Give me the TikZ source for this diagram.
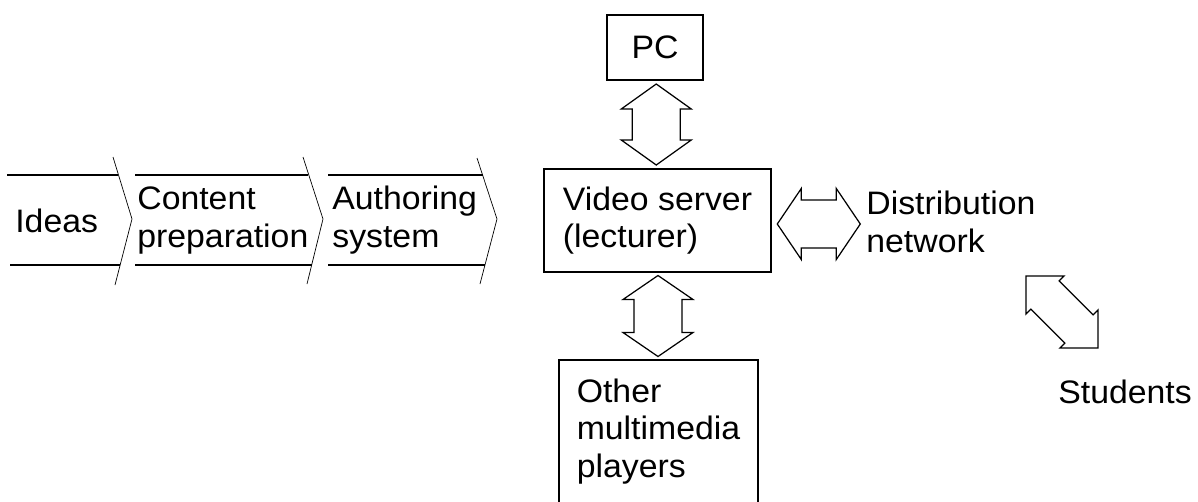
\documentclass[tikz,border=0pt]{standalone}
\usepackage{fontspec}
\setmainfont{Liberation Sans}[FakeStretch=1.04]
\usetikzlibrary{shapes,arrows,positioning,calc}

% block double arrow along x: length, head width, shaft width, head length
\tikzset{pics/blockarr/.style n args={4}{code={
    \draw[line width=0.7pt] (-#1/2,0) -- (-#1/2+#4,-#2/2) -- (-#1/2+#4,-#3/2) -- (#1/2-#4,-#3/2) -- (#1/2-#4,-#2/2)
        -- (#1/2,0) -- (#1/2-#4,#2/2) -- (#1/2-#4,#3/2) -- (-#1/2+#4,#3/2) -- (-#1/2+#4,#2/2) -- cycle;
}}}

\begin{document}
\begin{tikzpicture}[x=0.02cm, y=-0.02cm,
                txt/.style={inner sep=0pt, align=left, font=\fontsize{18.5}{21.5}\selectfont},
                box/.style={rectangle, draw, line width=0.7pt, inner sep=0pt, align=left, font=\fontsize{18.5}{21.5}\selectfont},
                band/.style={line width=0.8pt}]

                \useasboundingbox (0,0) rectangle (1198,501);
                \clip (0,0) rectangle (1198,501);

                % Stages
                \node[txt, anchor=base west] (ideas) at (15,232) {Ideas};
                \node[txt, anchor=base west] (content) at (137,247) {Content\\preparation};
                \node[txt, anchor=base west] (authoring) at (332,247) {Authoring\\system};

                % Band
                \draw[band] (7,175) -- (118,175) (10,265) -- (120,265);
                \draw[band] (135,175) -- (308,175) (135,265) -- (312,265);
                \draw[band] (328,175) -- (483,175) (328,265) -- (485,265);
                \draw (113,157) -- (132,219) -- (115,285);
                \draw (303,157) -- (323,219) -- (307,284);
                \draw (477,158) -- (497,219) -- (480,284);

                % Server and players
                \node[box, minimum width=4.54cm, minimum height=2.06cm] (video) at (657.5,220.5) {Video server\\(lecturer)};
                \node[box, minimum width=1.92cm, minimum height=1.3cm] (pc) at (655,47.5) {PC};
                \node[box, minimum width=3.98cm, minimum height=2.86cm] (other) at (658.5,431.5) {Other\\multimedia\\players};

                % Network
                \node[txt, anchor=base west] (distr) at (866,252) {Distribution\\network};
                \node[txt, anchor=base west] (students) at (1058,403) {Students};

                % Block arrows
                \pic[rotate=90] (pcarrow) at ($(pc.south)!0.5!(video.north)$) {blockarr={81}{70}{48}{25}};
                \pic[rotate=90] (otherarrow) at ($(video.south)!0.5!(other.north)$) {blockarr={81}{70}{48}{24}};
                \pic (distarrow) at ($(video.east)!0.5!(distr.west)+(0,3)$) {blockarr={83}{71}{48}{24}};
                \pic[rotate=-45] (studarrow) at (1062,312) {blockarr={102}{54}{40}{27}};

            \end{tikzpicture}
\end{document}
